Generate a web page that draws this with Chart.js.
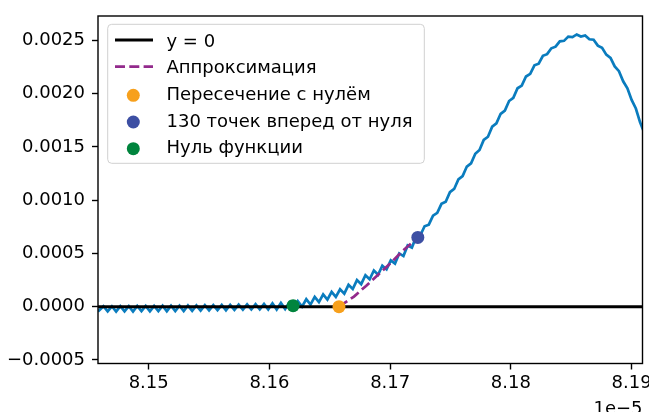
<!DOCTYPE html>
<html>
<head>
<meta charset="utf-8">
<script src="https://cdn.jsdelivr.net/npm/chart.js@4/dist/chart.umd.min.js"></script>
<style>
html,body{margin:0;padding:0;background:#fff;}
#wrap{width:649px;height:412px;position:relative;}
</style>
</head>
<body>
<div id="wrap"><canvas id="c" width="649" height="412"></canvas></div>
<script>
// ---- data (x in units of 1e-5, signal in units of 1e-4) ----
const timeE5 = [
8.14580, 8.14625, 8.14660, 8.14695, 8.14730, 8.14765, 8.14800, 8.14835, 8.14870, 8.14905,
8.14940, 8.14975, 8.15010, 8.15045, 8.15080, 8.15115, 8.15150, 8.15185, 8.15220, 8.15255,
8.15290, 8.15325, 8.15360, 8.15395, 8.15430, 8.15465, 8.15500, 8.15535, 8.15570, 8.15605,
8.15640, 8.15675, 8.15710, 8.15745, 8.15780, 8.15815, 8.15850, 8.15885, 8.15920, 8.15955,
8.15990, 8.16025, 8.16060, 8.16095, 8.16130, 8.16165, 8.16200, 8.16235, 8.16270, 8.16305,
8.16340, 8.16375, 8.16410, 8.16445, 8.16480, 8.16515, 8.16550, 8.16585, 8.16620, 8.16655,
8.16690, 8.16725, 8.16760, 8.16795, 8.16830, 8.16865, 8.16900, 8.16935, 8.16970, 8.17005,
8.17040, 8.17075, 8.17110, 8.17145, 8.17180, 8.17215, 8.17250, 8.17285, 8.17320, 8.17355,
8.17390, 8.17425, 8.17460, 8.17495, 8.17530, 8.17565, 8.17600, 8.17635, 8.17670, 8.17705,
8.17740, 8.17775, 8.17810, 8.17845, 8.17880, 8.17915, 8.17950, 8.17985, 8.18020, 8.18055,
8.18090, 8.18125, 8.18160, 8.18195, 8.18230, 8.18265, 8.18300, 8.18335, 8.18370, 8.18405,
8.18440, 8.18475, 8.18510, 8.18545, 8.18580, 8.18615, 8.18650, 8.18685, 8.18720, 8.18755,
8.18790, 8.18825, 8.18860, 8.18895, 8.18930, 8.18965, 8.19000, 8.19035, 8.19070, 8.19105
];
const signalE4 = [
-0.45, 0.05, -0.44, 0.04, -0.46, 0.06, -0.43, 0.05, -0.45, 0.07,
-0.42, 0.07, -0.44, 0.08, -0.41, 0.09, -0.42, 0.10, -0.40, 0.10,
-0.40, 0.11, -0.38, 0.12, -0.36, 0.14, -0.35, 0.15, -0.33, 0.17,
-0.33, 0.18, -0.30, 0.20, -0.28, 0.22, -0.26, 0.24, -0.24, 0.26,
-0.25, 0.32, -0.26, 0.36, -0.22, 0.40, -0.18, 0.51, 0.01, 0.70,
0.20, 0.92, 0.43, 1.15, 0.67, 1.40, 0.92, 1.63, 1.23, 2.05,
1.66, 2.50, 2.12, 2.95, 2.57, 3.40, 3.00, 3.85, 3.50, 4.35,
4.05, 5.00, 4.75, 5.75, 5.55, 6.55, 6.70, 7.55, 7.70, 8.55,
8.80, 9.65, 9.85, 10.75, 11.05, 11.95, 12.25, 13.15, 13.45, 14.35,
14.70, 15.65, 15.95, 16.90, 17.20, 18.10, 18.40, 19.30, 19.60, 20.50,
20.75, 21.60, 21.85, 22.65, 22.80, 23.55, 23.70, 24.25, 24.40, 24.90,
24.95, 25.35, 25.30, 25.55, 25.35, 25.45, 25.10, 25.05, 24.50, 24.30,
23.65, 23.35, 22.55, 22.10, 21.15, 20.50, 19.40, 18.60, 17.30, 16.30
];
const approxTimeE5 = [8.16576, 8.16700, 8.16800, 8.16900, 8.17000, 8.17100, 8.17229];
const approxE4     = [0.00, 0.95, 1.95, 3.00, 4.05, 5.20, 6.50];
const markerLabels  = ["Пересечение с нулём", "130 точек вперед от нуля", "Нуль функции"];
const markerTimeE5  = [8.16576, 8.17229, 8.16196];
const markerValueE4 = [0.00, 6.50, 0.10];
const zeroLevel = 0;
const zeroLabel = "y = 0";
const approxLabel = "Аппроксимация";
const xTicks = [8.15, 8.16, 8.17, 8.18, 8.19];
const yTicks = [-0.0005, 0.0000, 0.0005, 0.0010, 0.0015, 0.0020, 0.0025];
const xLimits = [8.1458, 8.1909];
const yLimits = [-0.000533, 0.002728];
const xOffsetLabel = "1e\u22125";

// ---- build ----
const E4 = 1e-4;
const FONT = '"DejaVu Sans", "Liberation Sans", sans-serif';
const signalPts = timeE5.map((t, i) => ({x: t, y: signalE4[i] * E4}));
const approxPts = approxTimeE5.map((t, i) => ({x: t, y: approxE4[i] * E4}));
const markerColors = ['#f7a01c', '#3d4fa3', '#00843d'];

const datasets = [
  {label: 'signal', data: signalPts, showLine: true, borderColor: '#0a7cbe', borderWidth: 2.7,
   pointRadius: 0, order: 6, tension: 0},
  {label: zeroLabel, data: [{x: xLimits[0], y: zeroLevel}, {x: xLimits[1], y: zeroLevel}], showLine: true,
   borderColor: '#000000', borderWidth: 3, pointRadius: 0, order: 5, legendRow: 0, kind: 'line'},
  {label: approxLabel, data: approxPts, showLine: true, borderColor: '#932a8c', borderWidth: 2.7,
   borderDash: [10, 4.3], pointRadius: 0, order: 4, legendRow: 1, kind: 'line'},
];
markerLabels.forEach((lab, i) => {
  datasets.push({label: lab, data: [{x: markerTimeE5[i], y: markerValueE4[i] * E4}], showLine: false,
    pointRadius: 6.5, pointBackgroundColor: markerColors[i], pointBorderWidth: 0, borderColor: markerColors[i],
    backgroundColor: markerColors[i], order: 3 - i, legendRow: 2 + i, kind: 'marker'});
});

const framePlugin = {
  id: 'frameLegend',
  afterDatasetsDraw(chart) {
    const {ctx, chartArea: a} = chart;
    ctx.save();
    // spines
    ctx.strokeStyle = '#000'; ctx.lineWidth = 1.4; ctx.setLineDash([]);
    ctx.strokeRect(a.left, a.top, a.right - a.left, a.bottom - a.top);
    // offset text
    ctx.font = '18px ' + FONT; ctx.fillStyle = '#000';
    ctx.textAlign = 'right'; ctx.textBaseline = 'alphabetic';
    ctx.fillText(xOffsetLabel, a.right, 414);
    // legend box
    const bx = a.left + 9.7, by = a.top + 8.3, bw = 316.6, bh = 139;
    const r = 4;
    ctx.beginPath();
    ctx.moveTo(bx + r, by); ctx.lineTo(bx + bw - r, by); ctx.quadraticCurveTo(bx + bw, by, bx + bw, by + r);
    ctx.lineTo(bx + bw, by + bh - r); ctx.quadraticCurveTo(bx + bw, by + bh, bx + bw - r, by + bh);
    ctx.lineTo(bx + r, by + bh); ctx.quadraticCurveTo(bx, by + bh, bx, by + bh - r);
    ctx.lineTo(bx, by + r); ctx.quadraticCurveTo(bx, by, bx + r, by);
    ctx.closePath();
    ctx.fillStyle = 'rgba(255,255,255,0.8)'; ctx.fill();
    ctx.strokeStyle = '#d0d0d0'; ctx.lineWidth = 1; ctx.stroke();
    const items = chart.data.datasets.filter(d => d.legendRow !== undefined)
      .sort((p, q) => p.legendRow - q.legendRow);
    items.forEach(d => {
      const base = by + 22.4 + d.legendRow * 26.67;
      if (d.kind === 'line') {
        ctx.strokeStyle = d.borderColor; ctx.lineWidth = d.borderWidth;
        ctx.setLineDash(d.borderDash || []);
        ctx.beginPath(); ctx.moveTo(bx + 7.3, base - 6.7); ctx.lineTo(bx + 45.3, base - 6.7); ctx.stroke();
        ctx.setLineDash([]);
      } else {
        ctx.fillStyle = d.pointBackgroundColor;
        ctx.beginPath(); ctx.arc(bx + 25.6, base - 4.7, 6.5, 0, Math.PI * 2); ctx.fill();
      }
      ctx.fillStyle = '#000'; ctx.font = '18px ' + FONT;
      ctx.textAlign = 'left'; ctx.textBaseline = 'alphabetic';
      ctx.fillText(d.label, bx + 58.8, base);
    });
    ctx.restore();
  }
};

new Chart(document.getElementById('c'), {
  type: 'scatter',
  data: {datasets},
  options: {
    responsive: false, animation: false, devicePixelRatio: 1, events: [],
    layout: {padding: {top: 16, right: 5.5, left: 0, bottom: 0}},
    plugins: {legend: {display: false}, tooltip: {enabled: false}},
    scales: {
      x: {
        type: 'linear', min: xLimits[0], max: xLimits[1],
        afterBuildTicks: s => { s.ticks = xTicks.map(v => ({value: v})); },
        afterFit: s => { s.height = 48.5; s.paddingLeft = 0; s.paddingRight = 0; },
        ticks: {callback: v => v.toFixed(2), color: '#000', font: {family: FONT, size: 18},
                padding: 3.5, maxRotation: 0, autoSkip: false},
        grid: {drawOnChartArea: false, tickLength: 6, tickColor: '#000', tickWidth: 1.4},
        border: {display: false}
      },
      y: {
        type: 'linear', min: yLimits[0], max: yLimits[1],
        afterBuildTicks: s => { s.ticks = yTicks.map(v => ({value: v})); },
        afterFit: s => { s.width = 98; s.paddingTop = 0; s.paddingBottom = 0; },
        ticks: {callback: v => (v < 0 ? '\u2212' : '') + Math.abs(v).toFixed(4), color: '#000',
                font: {family: FONT, size: 18}, padding: 7, autoSkip: false},
        grid: {drawOnChartArea: false, tickLength: 6, tickColor: '#000', tickWidth: 1.4},
        border: {display: false}
      }
    }
  },
  plugins: [framePlugin]
});
</script>
</body>
</html>
